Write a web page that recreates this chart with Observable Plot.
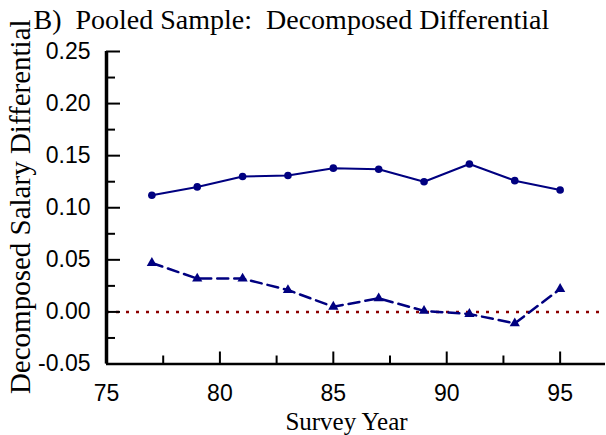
<!DOCTYPE html>
<html>
<head>
<meta charset="utf-8">
<script src="https://cdn.jsdelivr.net/npm/d3@7"></script>
<script src="https://cdn.jsdelivr.net/npm/@observablehq/plot@0.6"></script>
<style>
  html, body { margin: 0; padding: 0; background: white; }
  svg text { white-space: pre; }
</style>
</head>
<body>
<div id="chart"></div>
<script>
// ---- data ----
const years = [77, 79, 81, 83, 85, 87, 89, 91, 93, 95];
const solidSeries = [0.112, 0.120, 0.130, 0.131, 0.138, 0.137, 0.125, 0.142, 0.126, 0.117];
const dashedSeries = [0.047, 0.032, 0.032, 0.021, 0.005, 0.013, 0.001, -0.002, -0.011, 0.022];
const xMajorTicks = [75, 80, 85, 90, 95];
const xMinorTicks = [77.5, 82.5, 87.5, 92.5];
const yMajorTicks = [-0.05, 0.00, 0.05, 0.10, 0.15, 0.20, 0.25];
const yMinorTicks = [-0.025, 0.025, 0.075, 0.125, 0.175, 0.225];
const titleText = "B)  Pooled Sample:  Decomposed Differential";
const yTitle = "Decomposed Salary Differential";
const xTitle = "Survey Year";

const solidData = years.map((y, i) => ({year: y, value: solidSeries[i]}));
const dashedData = years.map((y, i) => ({year: y, value: dashedSeries[i]}));

const navy = "#000080";
const serif = "'Liberation Serif', 'Times New Roman', serif";
const sans = "'Liberation Sans', Arial, sans-serif";

const chart = Plot.plot({
  width: 606,
  height: 435,
  marginLeft: 106,
  marginRight: 1,
  marginTop: 51,
  marginBottom: 71.5,
  style: {background: "white", color: "black", overflow: "visible", fontFamily: sans},
  x: {domain: [75, 97]},
  y: {domain: [-0.05, 0.25]},
  marks: [
    // zero reference line (dotted)
    Plot.ruleY([0], {stroke: "#8b0000", strokeWidth: 2.5, strokeDasharray: "3,7"}),
    // axis lines
    Plot.ruleX([75], {stroke: "black", strokeWidth: 3.5}),
    Plot.ruleY([-0.05], {stroke: "black", strokeWidth: 2.5}),
    // inward ticks
    Plot.ruleX(xMajorTicks, {x: d => d, y1: -0.05, y2: -0.05, insetTop: -12, stroke: "black", strokeWidth: 2}),
    Plot.ruleX(xMinorTicks, {x: d => d, y1: -0.05, y2: -0.05, insetTop: -8, stroke: "black", strokeWidth: 2}),
    Plot.ruleY(yMajorTicks, {y: d => d, x1: 75, x2: 75, insetRight: -14, stroke: "black", strokeWidth: 2}),
    Plot.ruleY(yMinorTicks, {y: d => d, x1: 75, x2: 75, insetRight: -9, stroke: "black", strokeWidth: 2}),
    // tick labels
    Plot.axisX({ticks: xMajorTicks, tickSize: 0, tickPadding: 21, tickFormat: d => String(d),
      fontSize: 23, label: null}),
    Plot.axisY({ticks: yMajorTicks, tickSize: 0, tickPadding: 16, tickFormat: d => d.toFixed(2),
      fontSize: 23, label: null}),
    // series
    Plot.line(solidData, {x: "year", y: "value", stroke: navy, strokeWidth: 2}),
    Plot.dot(solidData, {x: "year", y: "value", r: 3.8, fill: navy, stroke: null}),
    Plot.line(dashedData, {x: "year", y: "value", stroke: navy, strokeWidth: 2.5, strokeDasharray: "11,6"}),
    Plot.dot(dashedData, {x: "year", y: "value", symbol: "triangle", r: 3.8, fill: navy, stroke: null}),
    // titles
    Plot.text([titleText], {frameAnchor: "top-left", textAnchor: "start", lineAnchor: "bottom",
      dx: -73, dy: -22.5, fontSize: 28, fill: "black"}),
    Plot.text([yTitle], {frameAnchor: "left", rotate: -90, textAnchor: "middle", lineAnchor: "bottom",
      dx: -76.5, dy: -1, fontSize: 29, fill: "black"}),
    Plot.text([xTitle], {frameAnchor: "bottom", textAnchor: "middle", lineAnchor: "bottom",
      dx: -9.5, dy: 65.5, fontSize: 25, fill: "black"})
  ]
});
// serif face for the titles, sans for tick labels
d3.select(chart).selectAll("text").each(function() {
  const t = this.textContent;
  if (t === titleText || t === yTitle || t === xTitle) {
    this.style.fontFamily = serif;
  } else {
    this.style.fontFamily = sans;
  }
});
document.getElementById("chart").appendChild(chart);
</script>
</body>
</html>
